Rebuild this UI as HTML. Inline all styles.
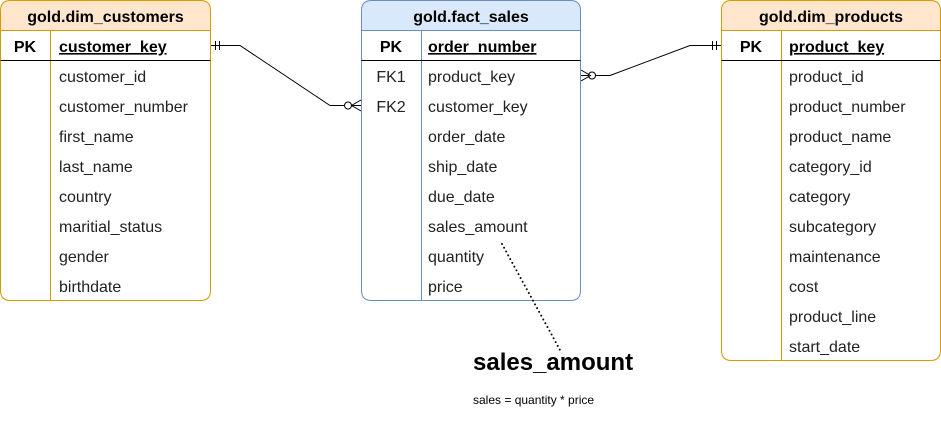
<!DOCTYPE html>
<html><head><meta charset="utf-8"><style>
html,body{margin:0;padding:0;background:#fff;}
svg{display:block;font-family:"Liberation Sans",Arial,sans-serif;}
</style></head><body>
<svg width="941" height="434" viewBox="0 0 941 434" xmlns="http://www.w3.org/2000/svg">
<!-- Left table -->
<g>
<path d="M10.5 0.5 H200.5 Q210.5 0.5 210.5 10.5 V30.5 H0.5 V10.5 Q0.5 0.5 10.5 0.5 Z" fill="#ffe6cc" stroke="#d79b00"/>
<path d="M0.5 30.5 H210.5 V290.5 Q210.5 300.5 200.5 300.5 H10.5 Q0.5 300.5 0.5 290.5 Z" fill="#fff" stroke="#d79b00"/>
<line x1="50.5" y1="30.5" x2="50.5" y2="300" stroke="#d79b00"/>
<line x1="0.5" y1="60.5" x2="210.5" y2="60.5" stroke="#000"/>
<text x="105.5" y="22" font-size="16" font-weight="bold" text-anchor="middle">gold.dim_customers</text>
<text x="25" y="52" font-size="16" font-weight="bold" text-anchor="middle">PK</text>
<text x="59" y="52" font-size="16" font-weight="bold" text-decoration="underline">customer_key</text>
<g font-size="16" fill="#222">
<text x="59" y="82">customer_id</text>
<text x="59" y="112">customer_number</text>
<text x="59" y="142">first_name</text>
<text x="59" y="172">last_name</text>
<text x="59" y="202">country</text>
<text x="59" y="232">maritial_status</text>
<text x="59" y="262">gender</text>
<text x="59" y="292">birthdate</text>
</g>
</g>
<!-- Middle table -->
<g>
<path d="M371.5 0.5 H570.5 Q580.5 0.5 580.5 10.5 V30.5 H361.5 V10.5 Q361.5 0.5 371.5 0.5 Z" fill="#dae8fc" stroke="#6c8ebf"/>
<path d="M361.5 30.5 H580.5 V290.5 Q580.5 300.5 570.5 300.5 H371.5 Q361.5 300.5 361.5 290.5 Z" fill="#fff" stroke="#6c8ebf"/>
<line x1="421.5" y1="30.5" x2="421.5" y2="300" stroke="#6c8ebf"/>
<line x1="361.5" y1="60.5" x2="580.5" y2="60.5" stroke="#000"/>
<text x="471" y="22" font-size="16" font-weight="bold" text-anchor="middle">gold.fact_sales</text>
<text x="391" y="52" font-size="16" font-weight="bold" text-anchor="middle">PK</text>
<text x="428" y="52" font-size="16" font-weight="bold" text-decoration="underline">order_number</text>
<g font-size="16" fill="#222">
<text x="391" y="82" text-anchor="middle">FK1</text>
<text x="391" y="112" text-anchor="middle">FK2</text>
<text x="428" y="82">product_key</text>
<text x="428" y="112">customer_key</text>
<text x="428" y="142">order_date</text>
<text x="428" y="172">ship_date</text>
<text x="428" y="202">due_date</text>
<text x="428" y="232">sales_amount</text>
<text x="428" y="262">quantity</text>
<text x="428" y="292">price</text>
</g>
</g>
<!-- Right table -->
<g>
<path d="M731.5 0.5 H930.5 Q940.5 0.5 940.5 10.5 V30.5 H721.5 V10.5 Q721.5 0.5 731.5 0.5 Z" fill="#ffe6cc" stroke="#d79b00"/>
<path d="M721.5 30.5 H940.5 V350.5 Q940.5 360.5 930.5 360.5 H731.5 Q721.5 360.5 721.5 350.5 Z" fill="#fff" stroke="#d79b00"/>
<line x1="781.5" y1="30.5" x2="781.5" y2="360" stroke="#d79b00"/>
<line x1="721.5" y1="60.5" x2="940.5" y2="60.5" stroke="#000"/>
<text x="831" y="22" font-size="16" font-weight="bold" text-anchor="middle">gold.dim_products</text>
<text x="751" y="52" font-size="16" font-weight="bold" text-anchor="middle">PK</text>
<text x="789" y="52" font-size="16" font-weight="bold" text-decoration="underline">product_key</text>
<g font-size="16" fill="#222">
<text x="789" y="82">product_id</text>
<text x="789" y="112">product_number</text>
<text x="789" y="142">product_name</text>
<text x="789" y="172">category_id</text>
<text x="789" y="202">category</text>
<text x="789" y="232">subcategory</text>
<text x="789" y="262">maintenance</text>
<text x="789" y="292">cost</text>
<text x="789" y="322">product_line</text>
<text x="789" y="352">start_date</text>
</g>
</g>
<!-- Connectors -->
<g stroke="#000" fill="none" stroke-width="1">
<path d="M211 45.5 H240 L330 105.5 H344"/>
<line x1="215.5" y1="41" x2="215.5" y2="50"/>
<line x1="219.5" y1="41" x2="219.5" y2="50"/>
<circle cx="348" cy="105.5" r="3.5" fill="#fff"/>
<path d="M361 100 L351.5 105.5 L361 111"/>
<line x1="351.5" y1="105.5" x2="361" y2="105.5"/>
<path d="M610 75.5 L690 45.5 H721"/>
<line x1="712.5" y1="41" x2="712.5" y2="50"/>
<line x1="716.5" y1="41" x2="716.5" y2="50"/>
<path d="M581 75.5 H588"/>
<circle cx="592" cy="75.5" r="3.5" fill="#fff"/>
<path d="M581 70 L590.5 75.5 L581 81"/>
<line x1="596" y1="75.5" x2="610" y2="75.5"/>
</g>
<line x1="502" y1="244" x2="560" y2="350" stroke="#000" stroke-width="2" stroke-linecap="round" stroke-dasharray="0 4.3" />
<text x="473" y="370" font-size="24" font-weight="bold">sales_amount</text>
<text x="473" y="404" font-size="12">sales = quantity * price</text>
</svg>
</body></html>
